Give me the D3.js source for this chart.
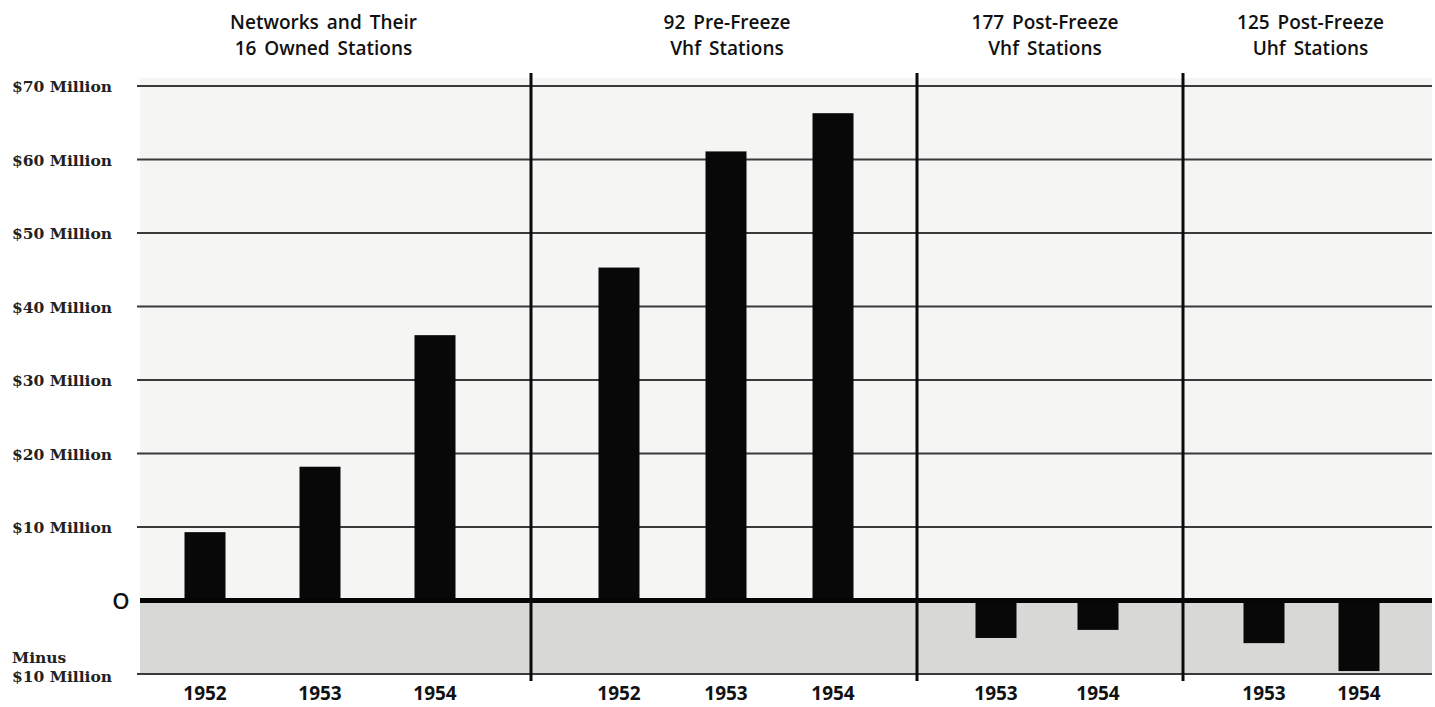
<!DOCTYPE html>
<html>
<head>
<meta charset="utf-8">
<script src="https://cdn.jsdelivr.net/npm/d3@7"></script>
<style>
  html, body { margin: 0; padding: 0; background: #ffffff; }
  svg { display: block; }
</style>
</head>
<body>
<div id="chart"></div>
<script>
// ---------- DATA ----------
const panelTitles = [
  ["Networks and Their", "16 Owned Stations"],
  ["92 Pre-Freeze", "Vhf Stations"],
  ["177 Post-Freeze", "Vhf Stations"],
  ["125 Post-Freeze", "Uhf Stations"]
];
const panelYears = [
  ["1952", "1953", "1954"],
  ["1952", "1953", "1954"],
  ["1953", "1954"],
  ["1953", "1954"]
];
const panelValues = [
  [9.3, 18.2, 36.1],
  [45.3, 61.1, 66.3],
  [-5.1, -4.0],
  [-5.8, -9.6]
];
const yTicks = [70, 60, 50, 40, 30, 20, 10, 0, -10];
const yTickLabels = ["$70 Million", "$60 Million", "$50 Million", "$40 Million",
  "$30 Million", "$20 Million", "$10 Million", "O", "Minus|$10 Million"];

// ---------- LAYOUT ----------
const W = 1435, H = 707;
const plotLeft = 140, plotRight = 1432;
const dividers = [531, 917, 1183];
const panelEdges = [plotLeft, ...dividers, plotRight];
const insets = [[65, 96], [88, 84], [79, 85], [81, 73]];
const titleShift = [-12, 3, -5, 3];
const barW = 41;

const svg = d3.select("#chart").append("svg")
  .attr("width", W).attr("height", H);

const y = d3.scaleLinear().domain([-10, 70]).range([674, 86]);

// backgrounds
svg.append("rect")
  .attr("x", plotLeft).attr("width", plotRight - plotLeft)
  .attr("y", y(70) - 8).attr("height", y(0) - y(70) + 8)
  .attr("fill", "#f5f5f4");
svg.append("rect")
  .attr("x", plotLeft).attr("width", plotRight - plotLeft)
  .attr("y", y(0)).attr("height", y(-10) - y(0))
  .attr("fill", "#d8d8d7");

// gridlines
svg.append("g").selectAll("line")
  .data(yTicks.filter(d => d !== 0))
  .join("line")
  .attr("x1", plotLeft - 3).attr("x2", plotRight)
  .attr("y1", d => y(d)).attr("y2", d => y(d))
  .attr("stroke", "#3a3a3a").attr("stroke-width", 2);

// y labels
const yl = svg.append("g")
  .style("font-family", "'DejaVu Serif', serif")
  .style("font-weight", "bold")
  .style("font-size", "15.5px")
  .attr("fill", "#222");
yTicks.forEach((t, i) => {
  const lab = yTickLabels[i];
  if (t === 0) {
    svg.append("text").attr("x", 121).attr("y", y(0) + 8)
      .attr("text-anchor", "middle")
      .style("font-family", "'Open Sans', sans-serif")
      .style("font-weight", "600")
      .style("font-size", "22px").attr("fill", "#111").text(lab);
  } else if (lab.includes("|")) {
    const parts = lab.split("|");
    yl.append("text").attr("x", 12).attr("y", y(t) - 11).text(parts[0]);
    yl.append("text").attr("x", 12).attr("y", y(t) + 8).text(parts[1]);
  } else {
    yl.append("text").attr("x", 12).attr("y", y(t) + 6).text(lab);
  }
});

// bars, years, titles
panelValues.forEach((vals, p) => {
  const x0 = panelEdges[p], x1 = panelEdges[p + 1];
  const x = d3.scalePoint().domain(panelYears[p])
    .range([x0 + insets[p][0], x1 - insets[p][1]]);
  const g = svg.append("g");
  g.selectAll("rect").data(vals).join("rect")
    .attr("x", (d, i) => x(panelYears[p][i]) - barW / 2)
    .attr("width", barW)
    .attr("y", d => y(Math.max(0, d)))
    .attr("height", d => Math.abs(y(d) - y(0)))
    .attr("fill", "#080808");
  g.selectAll("text.yr").data(panelYears[p]).join("text")
    .attr("class", "yr")
    .attr("x", d => x(d)).attr("y", 700)
    .attr("text-anchor", "middle")
    .style("font-family", "'Open Sans', sans-serif")
    .style("font-weight", "700")
    .style("font-size", "19px")
    .attr("fill", "#111")
    .text(d => d);
  const cx = (x0 + x1) / 2 + titleShift[p];
  panelTitles[p].forEach((line, li) => {
    svg.append("text")
      .attr("x", cx).attr("y", 29 + li * 26)
      .attr("text-anchor", "middle")
      .style("font-family", "'Open Sans', sans-serif")
      .style("font-weight", "600")
      .style("font-size", "19px")
      .style("word-spacing", "3px")
      .attr("fill", "#111")
      .text(line);
  });
});

// zero line
svg.append("line")
  .attr("x1", plotLeft).attr("x2", plotRight)
  .attr("y1", y(0)).attr("y2", y(0))
  .attr("stroke", "#050505").attr("stroke-width", 5);

// dividers
svg.append("g").selectAll("line").data(dividers).join("line")
  .attr("x1", d => d).attr("x2", d => d)
  .attr("y1", 73).attr("y2", 681)
  .attr("stroke", "#0a0a0a").attr("stroke-width", 3);
</script>
</body>
</html>
